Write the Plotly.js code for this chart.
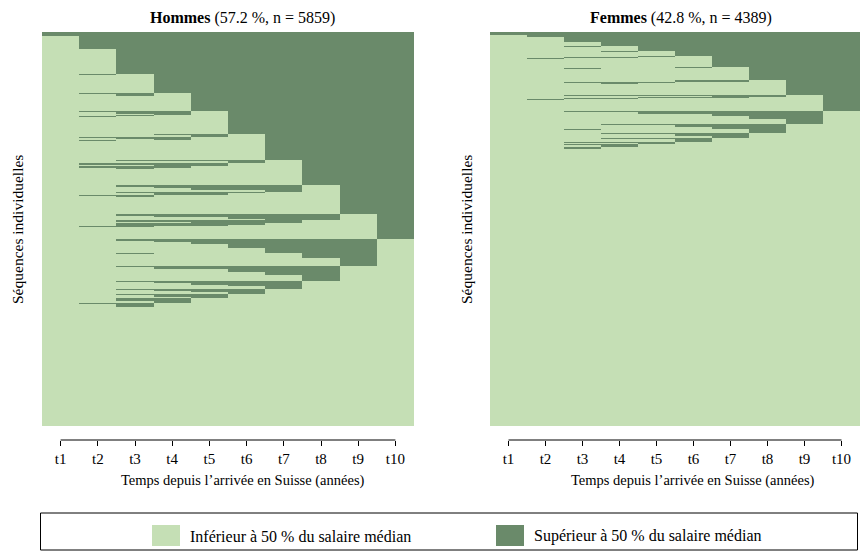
<!DOCTYPE html>
<html>
<head>
<meta charset="utf-8">
<script src="https://cdn.plot.ly/plotly-3.0.1.min.js"></script>
<style>html,body{margin:0;padding:0;background:#fff}#chart{width:860px;height:551px}</style>
</head>
<body>
<div id="chart"></div>
<script>
// ---- data ----
const timeLabels = ['t1','t2','t3','t4','t5','t6','t7','t8','t9','t10'];
const stateLabels = ['Inférieur à 50 % du salaire médian', 'Supérieur à 50 % du salaire médian'];
const stateColors = ['#C5DFB5', '#6A8A6A'];
// L = inférieur, H = supérieur ; one string per distinct sequence (t1..t10)
const hommesSeq = [
 'HHHHHHHHHH','LHHHHHHHHH','LLHHHHHHHH','LHLHHHHHHH','LLLHHHHHHH',
 'LLHLHHHHHH','LHHLHHHHHH','LHLLHHHHHH','LLLLHHHHHH',
 'LLLHLHHHHH','LHHHLHHHHH','LLHHLHHHHH','LLHLLHHHHH','LHLLLHHHHH','LLLLLHHHHH',
 'LLLHHLHHHH','LLLLHLHHHH','LHHHLLHHHH','LLHHLLHHHH','LLLHLLHHHH','LHLLLLHHHH','LLLLLLHHHH',
 'LLHHHHLHHH','LLLLLHLHHH','LHHHHLLHHH','LLLHHLLHHH','LHHHLLLHHH','LLHLLLLHHH','LLLLLLLHHH',
 'LLHHHHHLHH','LLLHHHHLHH','LLLLHHHLHH','LLLLLLHLHH','LLHHHHLLHH','LLLHHLLLHH','LHHLLLLLHH','LLHLLLLLHH','LLLLLLLLHH',
 'LLHHHHHHLH','LLLHHHHHLH','LLLLLHHHLH','LLLLLLHHLH','LLHHHHHLLH','LLLLHHHLLH','LLHHHHLLLH','LLHHHLLLLH','LHHLLLLLLH','LLLLLLLLLH',
 'LLHHHHHHHL','LLLHHHHHHL','LLLLHHHHHL','LLLLLHHHHL','LLLLLLHHHL','LLLLLLLHHL','LLLLLLLLHL',
 'LLHHHHHHLL','LLLHHHHHLL','LLLLLHHHLL','LLLLLLHHLL','LLLLLLLHLL',
 'LLHHHHHLLL','LLLHHHHLLL','LLLLHHHLLL','LLLLLHHLLL','LLLLLLHLLL',
 'LLHHHHLLLL','LLLHHHLLLL','LLLLHHLLLL','LLLLLHLLLL',
 'LLHHHLLLLL','LLLHHLLLLL','LLLLHLLLLL',
 'LLHHLLLLLL','LLLHLLLLLL','LHHLLLLLLL','LLHLLLLLLL','LHLLLLLLLL',
 'LHLLLLHHHL','LLHLLLLHHL','LHHLLLLLHL','LHLLLLLHLL',
 'LLLLLLLLLL'
];
const hommesN = [
 59,197,362,22,267,
 30,15,7,222,
 22,15,22,15,10,248,
 18,30,12,18,15,12,282,
 22,30,22,22,22,15,237,
 30,22,22,30,22,22,22,15,248,
 30,22,22,22,22,22,22,15,15,188,
 25,22,22,53,74,59,114,
 15,30,37,44,82,
 15,22,22,22,42,
 15,15,22,22,
 15,25,25,
 34,34,15,40,10,
 10,10,10,8,
 1766
];
const femmesSeq = [
 'HHHHHHHHHH','LHHHHHHHHH','LLHHHHHHHH','LHLHHHHHHH','LLLHHHHHHH',
 'LLHLHHHHHH','LLLLHHHHHH',
 'LLLHLHHHHH','LLHLLHHHHH','LLLLLHHHHH',
 'LLLLHLHHHH','LLHHLLHHHH','LLLHLLHHHH','LHLLLLHHHH','LLLLLLHHHH',
 'LLLLLHLHHH','LLLHHLLHHH','LLHLLLLHHH','LHLLLLLHHH','LLLLLLLHHH',
 'LLLLLHHLHH','LLLLLLHLHH','LLHHHLLLHH','LLLHLLLLHH','LHLLLLLLHH','LLLLLLLLHH',
 'LLHHHHHHLH','LLLLLLHHLH','LLLLHHHLLH','LLLLLHLLLH','LLHHLLLLLH','LHLLLLLLLH','LLLLLLLLLH',
 'LLHHHHHHHL','LLLLHHHHHL','LLLLLLHHHL','LLLLLLLHHL','LLLLLLLLHL',
 'LLLHHHHHLL','LLLLLHHHLL','LLLLLLHHLL','LLLLLLLHLL',
 'LLLHHHHLLL','LLLLLHHLLL','LLLLLLHLLL',
 'LLLHHHLLLL','LLLLLHLLLL',
 'LLHHHLLLLL','LLLLHLLLLL',
 'LLHHLLLLLL','LLLHLLLLLL','LLHLLLLLLL','LHLLLLLLLL',
 'LHLLLHHHHL','LLHLLLLHLL',
 'LLLLLLLLLL'
];
const femmesN = [
 37,15,56,6,41,
 15,37,
 11,6,48,
 8,8,6,6,85,
 11,8,6,6,119,
 17,8,8,8,6,119,
 11,11,8,8,8,6,123,
 17,17,22,28,56,
 17,22,22,31,
 17,17,22,
 17,28,
 11,19,
 13,12,26,6,
 6,6,
 3081
];
const panelTitles = ['<b>Hommes</b> (57.2 %, n = 5859)', '<b>Femmes</b> (42.8 %, n = 4389)'];
const xTitle = 'Temps depuis l’arrivée en Suisse (années)';
const yTitle = 'Séquences individuelles';

// ---- build ----
function build(seqs, counts) {
  const rows = seqs.map((s, i) => ({s, n: counts[i]}));
  // sort like the sequence index plot: from last time point backwards, high state first
  rows.sort((a, b) => {
    const ra = a.s.split('').reverse().join(''), rb = b.s.split('').reverse().join('');
    return ra < rb ? -1 : ra > rb ? 1 : 0;
  });
  const z = [], y = [0];
  let cum = 0;
  rows.forEach(r => {
    z.push(r.s.split('').map(c => c === 'H' ? 1 : 0));
    cum += r.n; y.push(cum);
  });
  return {z, y, total: cum};
}
const xEdges = timeLabels.map((_, i) => i + 0.5).concat([timeLabels.length + 0.5]);
const H = build(hommesSeq, hommesN), F = build(femmesSeq, femmesN);
const cs = [[0, stateColors[0]], [0.5, stateColors[0]], [0.5, stateColors[1]], [1, stateColors[1]]];
const mk = (d, xa, ya) => ({type: 'heatmap', x: xEdges, y: d.y, z: d.z, colorscale: cs, zmin: 0, zmax: 1,
  showscale: false, zsmooth: false, xaxis: xa, yaxis: ya, hoverinfo: 'skip'});

const W = 860, Hh = 551;
const px = v => v / W, py = v => (Hh - v) / Hh;
const FONT = 'Liberation Serif, Times New Roman, serif';
const axisY = py(440);
const xa = (d0, d1) => ({domain: [px(d0), px(d1)], range: [0.5, 10.5], anchor: 'free', position: axisY,
  tickmode: 'array', tickvals: timeLabels.map((_, i) => i + 1), ticktext: timeLabels,
  ticks: 'outside', ticklen: 5, tickwidth: 1, tickcolor: '#000', showline: false, showgrid: false,
  zeroline: false, automargin: false, fixedrange: true, tickfont: {family: FONT, size: 15, color: '#000'}});
const ya = (tot, anchor) => ({domain: [py(426), py(32)], range: [tot, 0], anchor: anchor, showticklabels: false,
  ticks: '', showgrid: false, zeroline: false, showline: false, automargin: false, fixedrange: true});

const layout = {
  width: W, height: Hh, margin: {l: 0, r: 0, t: 0, b: 0}, paper_bgcolor: '#fff', plot_bgcolor: '#fff',
  font: {family: FONT, size: 14, color: '#000'}, showlegend: false,
  xaxis: xa(42, 414), yaxis: ya(H.total, 'x'),
  xaxis2: xa(490, 861.5), yaxis2: ya(F.total, 'x2'),
  shapes: [
    {type: 'line', xref: 'x', yref: 'paper', x0: 1, x1: 10, y0: axisY, y1: axisY, line: {color: '#000', width: 1}},
    {type: 'line', xref: 'x2', yref: 'paper', x0: 1, x1: 10, y0: axisY, y1: axisY, line: {color: '#000', width: 1}},
    {type: 'rect', xref: 'paper', yref: 'paper', x0: px(40.5), x1: px(857.5), y0: py(550), y1: py(513), line: {color: '#000', width: 1}},
    {type: 'rect', xref: 'paper', yref: 'paper', x0: px(152), x1: px(180), y0: py(546), y1: py(525), fillcolor: stateColors[0], line: {width: 0}},
    {type: 'rect', xref: 'paper', yref: 'paper', x0: px(496), x1: px(524), y0: py(546), y1: py(525), fillcolor: stateColors[1], line: {width: 0}}
  ],
  annotations: [
    {text: panelTitles[0], xref: 'paper', yref: 'paper', x: px(242), y: py(18), showarrow: false, xanchor: 'center', yanchor: 'middle', font: {size: 16}},
    {text: panelTitles[1], xref: 'paper', yref: 'paper', x: px(681), y: py(18), showarrow: false, xanchor: 'center', yanchor: 'middle', font: {size: 16}},
    {text: xTitle, xref: 'paper', yref: 'paper', x: px(243), y: py(480), showarrow: false, xanchor: 'center', yanchor: 'middle', font: {size: 14.5}},
    {text: xTitle, xref: 'paper', yref: 'paper', x: px(693), y: py(480), showarrow: false, xanchor: 'center', yanchor: 'middle', font: {size: 14.5}},
    {text: yTitle, xref: 'paper', yref: 'paper', x: px(18), y: py(230), showarrow: false, textangle: -90, xanchor: 'center', yanchor: 'middle', font: {size: 15.5}},
    {text: yTitle, xref: 'paper', yref: 'paper', x: px(467), y: py(230), showarrow: false, textangle: -90, xanchor: 'center', yanchor: 'middle', font: {size: 15.5}},
    {text: stateLabels[0], xref: 'paper', yref: 'paper', x: px(188), y: py(536), showarrow: false, xanchor: 'left', yanchor: 'middle', font: {size: 16}},
    {text: stateLabels[1], xref: 'paper', yref: 'paper', x: px(532), y: py(536), showarrow: false, xanchor: 'left', yanchor: 'middle', font: {size: 16}}
  ]
};
Plotly.newPlot('chart', [mk(H, 'x', 'y'), mk(F, 'x2', 'y2')], layout, {displayModeBar: false, staticPlot: true});
</script>
</body>
</html>
